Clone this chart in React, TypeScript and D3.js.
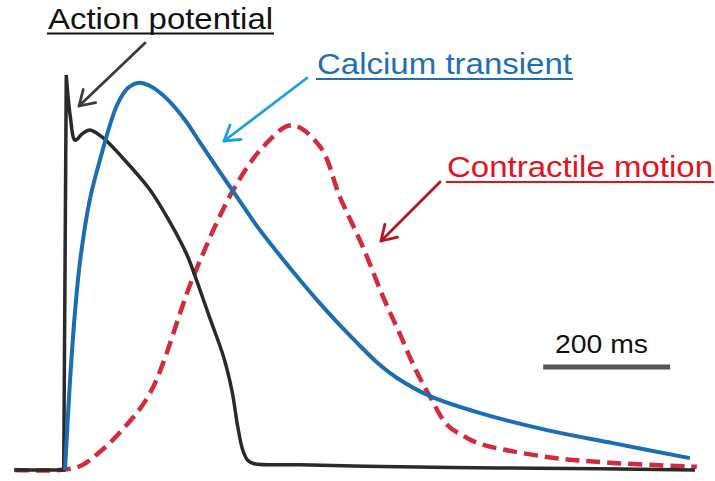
import React from "react";
import * as d3 from "d3";

// time (ms) relative to upstroke, normalized amplitude (0-100)
const apTime = [-80, -2, 2, 8, 16, 27, 39, 60, 91, 134, 165, 192, 205, 228, 250, 263, 272, 280, 288, 298, 370, 528, 685, 843, 992];
const apValue = [0, 0, 100, 89.9, 83.5, 85.1, 86.1, 84.1, 79.0, 70.9, 62.8, 54.5, 49.0, 38.5, 28.5, 20.0, 11.0, 5.0, 2.4, 1.6, 1.3, 0.8, 0.5, 0.3, 0];

const caTime = [0, 8, 16, 24, 39, 55, 82, 99, 115, 134, 161, 189, 213, 244, 271, 302, 339, 370, 397, 428, 460, 491, 523, 575, 654, 759, 863, 984];
const caValue = [0, 22.8, 40.5, 53.2, 68.4, 78.5, 92.4, 96.7, 98.0, 97.2, 93.9, 88.6, 82.8, 75.4, 69.1, 61.8, 54.2, 48.1, 43.0, 37.5, 32.2, 27.3, 23.3, 18.7, 14.4, 10.1, 6.8, 3.0];

const ctTime = [-79, -8, 24, 55, 87, 134, 202, 265, 312, 357, 402, 433, 469, 501, 528, 551, 575, 602, 630, 654, 759, 863, 995];
const ctValue = [0, 0, 1.0, 4.6, 9.6, 19.5, 48.9, 70.9, 81.8, 87.3, 81.8, 69.1, 56.5, 43.8, 34.2, 25.8, 18.5, 11.4, 8.4, 6.6, 3.3, 1.8, 0.8];

const labels = ["Action potential", "Calcium transient", "Contractile motion"];
const scaleBarStart = 753; // ms
const scaleBarLength = 200; // ms
const scaleBarLabel = "200 ms";

const W = 715;
const H = 481;

function Arrow({ x1, y1, x2, y2, color, width = 3, head = 17 }: any) {
  const ang = Math.atan2(y2 - y1, x2 - x1);
  const a = (32 * Math.PI) / 180;
  const p1 = [x2 - head * Math.cos(ang - a), y2 - head * Math.sin(ang - a)];
  const p2 = [x2 - head * Math.cos(ang + a), y2 - head * Math.sin(ang + a)];
  return (
    <g stroke={color} strokeWidth={width} fill="none" strokeLinecap="round" strokeLinejoin="round">
      <line x1={x1} y1={y1} x2={x2} y2={y2} />
      <path d={`M${p1[0]},${p1[1]}L${x2},${y2}L${p2[0]},${p2[1]}`} />
    </g>
  );
}

export default function App() {
  const x = d3.scaleLinear().domain([-80, 1000]).range([65 - 80 * 0.635, 65 + 1000 * 0.635]);
  const y = d3.scaleLinear().domain([0, 100]).range([470, 75]);

  const mk = (t: number[], v: number[], curve: any) =>
    d3
      .line<number>()
      .x((_, i) => x(t[i]))
      .y((d) => y(d))
      .curve(curve)(v) as string;

  const smooth = d3.curveCatmullRom.alpha(0.5);
  // upstroke drawn straight, the rest smoothed
  const apSpike = mk(apTime.slice(0, 3), apValue.slice(0, 3), d3.curveLinear);
  const apRest = mk(apTime.slice(2), apValue.slice(2), smooth);
  const caPath = mk(caTime, caValue, smooth);
  const ctPath = mk(ctTime, ctValue, smooth);

  const font = "'Liberation Sans', Arial, sans-serif";

  const sbX1 = x(scaleBarStart);
  const sbX2 = x(scaleBarStart + scaleBarLength);

  return (
    <svg
      width={W}
      height={H}
      style={{ position: "absolute", left: 0, top: 0, background: "#fff" }}
      xmlns="http://www.w3.org/2000/svg"
    >
      <rect width={W} height={H} fill="#fff" />
      <path d={ctPath} fill="none" stroke="#d22a3e" strokeWidth={4.5} strokeDasharray="14,7" />
      <path d={apSpike + apRest.replace(/^M[^C]*?(?=C|L)/, "")} fill="none" stroke="#2a2a2a" strokeWidth={3.5} strokeLinejoin="miter" strokeMiterlimit={20} />
      <path d={caPath} fill="none" stroke="#1c6db3" strokeWidth={4} />

      {/* labels */}
      <text x={48} y={29} fontFamily={font} fontSize={29} fill="#111" textLength={225} lengthAdjust="spacingAndGlyphs">
        {labels[0]}
      </text>
      <line x1={47} x2={274} y1={33.5} y2={33.5} stroke="#111" strokeWidth={2} />

      <text x={317} y={74} fontFamily={font} fontSize={29} fill="#1f6fb6" textLength={255} lengthAdjust="spacingAndGlyphs">
        {labels[1]}
      </text>
      <line x1={316} x2={573} y1={79} y2={79} stroke="#1f6fb6" strokeWidth={2} />

      <text x={447} y={177} fontFamily={font} fontSize={29} fill="#e3121c" textLength={266} lengthAdjust="spacingAndGlyphs">
        {labels[2]}
      </text>
      <line x1={446} x2={714} y1={182} y2={182} stroke="#e3121c" strokeWidth={2} />

      {/* arrows */}
      <Arrow x1={145} y1={43} x2={79} y2={106} color="#3c3c3c" width={2.8} />
      <Arrow x1={307} y1={78} x2={224} y2={141} color="#1aa2e0" width={2.8} />
      <Arrow x1={440} y1={182} x2={381} y2={241} color="#c0101c" width={2.8} />

      {/* scale bar */}
      <line x1={sbX1} x2={sbX2} y1={367} y2={367} stroke="#555" strokeWidth={5} />
      <text x={555} y={353} fontFamily={font} fontSize={26} fill="#111" textLength={93} lengthAdjust="spacingAndGlyphs">
        {scaleBarLabel}
      </text>
    </svg>
  );
}
